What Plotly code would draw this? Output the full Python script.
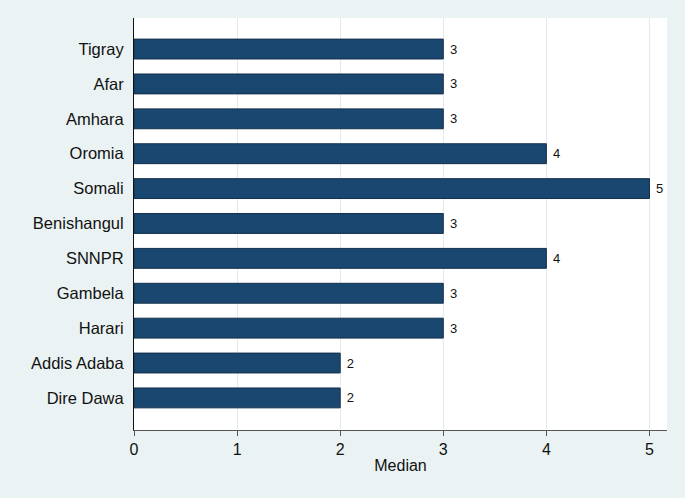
import plotly.graph_objects as go

regions = ["Tigray", "Afar", "Amhara", "Oromia", "Somali", "Benishangul",
           "SNNPR", "Gambela", "Harari", "Addis Adaba", "Dire Dawa"]
medians = [3, 3, 3, 4, 5, 3, 4, 3, 3, 2, 2]
x_ticks = [0, 1, 2, 3, 4, 5]

pos = list(range(len(regions)))

fig = go.Figure(go.Bar(
    x=medians, y=pos, orientation="h",
    marker=dict(color="#1a476f", line=dict(color="#14304c", width=1)),
    width=0.57,
    text=[" " + str(v) for v in medians], textposition="outside",
    textfont=dict(family="Liberation Sans, Arial", size=13, color="#111"),
    cliponaxis=False,
))

fig.update_layout(
    width=685, height=498,
    paper_bgcolor="#eaf2f3", plot_bgcolor="white",
    margin=dict(l=134, r=18, t=18, b=68),
    font=dict(family="Liberation Sans, Arial", color="#111"),
    showlegend=False,
    bargap=0.43,
)
fig.update_xaxes(
    range=[0, 5.17], tickvals=x_ticks, ticks="outside", ticklen=5,
    tickcolor="#555", showline=True, linecolor="#555", linewidth=1,
    showgrid=True, gridcolor="#e1eaec", gridwidth=1, zeroline=False,
    tickfont=dict(size=16), title=dict(text="Median", font=dict(size=16), standoff=2),
)
fig.update_yaxes(
    range=[10.92, -0.89], tickvals=pos, ticktext=regions, ticks="",
    showline=True, linecolor="#111", linewidth=1, showgrid=False,
    zeroline=False, tickfont=dict(size=16.5), ticklabelstandoff=6,
)

fig.write_html(
    "out.html",
    config={"displayModeBar": False},
    post_script="document.body.style.margin='0';document.body.style.overflow='hidden';"
                "document.body.style.background='#eaf2f3';",
)
